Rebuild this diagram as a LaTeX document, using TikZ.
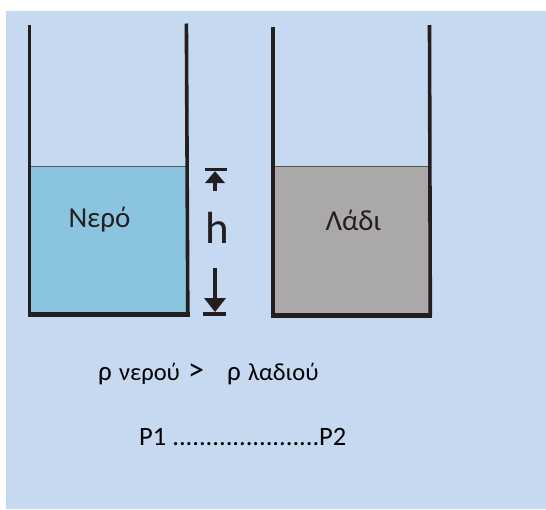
\documentclass[tikz,border=0pt]{standalone}
\usepackage{fontspec}
\setmainfont{Carlito}
\definecolor{bg}{HTML}{C6D9F0}
\definecolor{water}{HTML}{8BC4DF}
\definecolor{oil}{HTML}{AAA9A8}
\definecolor{ink}{HTML}{231F20}
\tikzset{
  wall/.style={draw=ink, line width=3.6pt},
  base/.style={draw=ink, line width=4.8pt},
  level/.style={draw=ink!75, line width=0.9pt},
  label/.style={inner sep=0pt, text=ink, anchor=base, font=\fontsize{29}{29}\selectfont},
  txt/.style={inner sep=0pt, anchor=base west, text=black},
  big/.style={font=\fontsize{27}{27}\selectfont},
  small/.style={font=\fontsize{24.5}{24.5}\selectfont},
}
\begin{document}
\begin{tikzpicture}[x=1pt, y=-1pt]
\useasboundingbox (0,0) rectangle (546,509);
\fill[bg] (6,11) rectangle (546,509);

% water beaker
\fill[water] (31,166) rectangle (186,313);
\draw[level] (31,166) -- (186,166);
\draw[wall] (29.6,25) -- (29.6,312);
\draw[wall] (186.4,23.5) -- (187.8,312);
\draw[base] (27.8,314.2) -- (189.6,314.2);
\node[label] (nero) at (99.5,227) {Νερό};

% oil beaker
\fill[oil] (274,166) rectangle (429,314);
\draw[level] (274,166) -- (429,166);
\draw[wall] (272.8,26.5) -- (272.8,314);
\draw[wall] (429.5,25) -- (430.3,315);
\draw[base] (271,315.8) -- (432,315.8);
\node[label] (ladi) at (353.5,230.5) {Λάδι};

% height marker
\coordinate (htop) at (215,168.5);
\coordinate (hbot) at (215,315);
\fill[ink] (204.5,168) rectangle (226.5,171.2);
\fill[ink] (215,171.2) -- (205,183) -- (225,183) -- cycle;
\fill[ink] (213,183) rectangle (217,190.7);
\fill[ink] (213,268) rectangle (217,299);
\fill[ink] (215,312) -- (204,298) -- (226,298) -- cycle;
\fill[ink] (203,312) rectangle (226,316);
\node[inner sep=0pt, anchor=base, text=ink, font=\fontsize{45}{45}\selectfont] (h) at (217.5,243) {h};

% density comparison
\node[txt, big] (rho1) at (98,380) {ρ};
\node[txt, small] (water name) at (119,380) {νερού};
\node[txt, font=\fontsize{32}{32}\selectfont] (gt) at (188,380) {>};
\node[txt, big] (rho2) at (227,380) {ρ};
\node[txt, small] (oil name) at (248,380) {λαδιού};

% pressure comparison
\node[txt, font=\fontsize{26.5}{26.5}\selectfont] (press) at (139,445) {P1 ......................P2};
\end{tikzpicture}
\end{document}
